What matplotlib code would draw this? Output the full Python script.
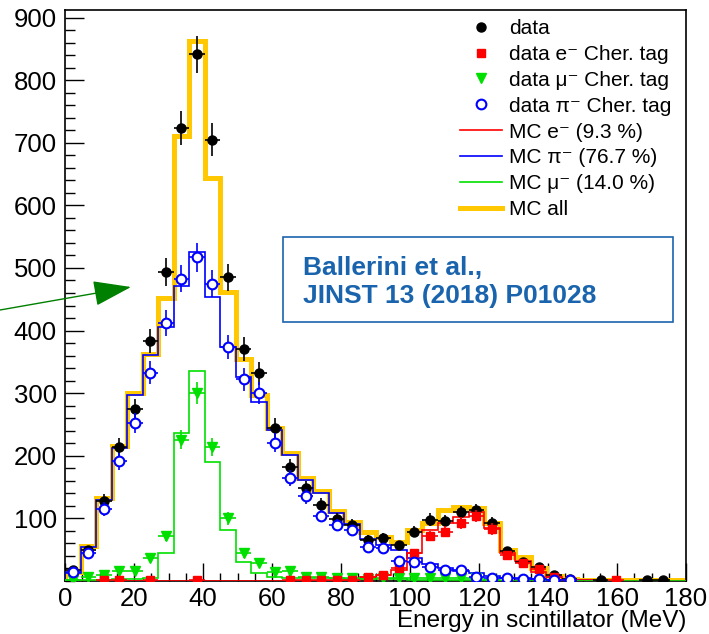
import numpy as np
import matplotlib
matplotlib.use("Agg")
import matplotlib.pyplot as plt
from matplotlib.lines import Line2D
from matplotlib.patches import Rectangle, FancyArrowPatch
from matplotlib.ticker import MultipleLocator

plt.rcParams['font.family'] = ['Liberation Sans', 'DejaVu Sans']

# 40 bins of 4.5 MeV between 0 and 180 MeV
bin_width = 4.5
edges = np.arange(0, 180 + bin_width / 2, bin_width)
centers = edges[:-1] + bin_width / 2

# Monte Carlo templates (entries per bin)
mc_all = np.array([15, 56, 132, 215, 300, 363, 452, 710, 862, 644,
                   462, 355, 297, 244, 204, 164, 143, 112, 95, 78,
                   70, 63, 81, 92, 113, 118, 116, 92, 50, 39,
                   20, 8, 3, 2, 1, 1, 1, 1, 1, 1])
mc_pi = np.array([12, 55, 130, 213, 297, 361, 405, 471, 525, 454,
                  374, 326, 286, 241, 202, 162, 140, 108, 91, 67,
                  58, 49, 36, 27, 20, 16, 12, 8, 5, 4,
                  3, 2, 1, 1, 0, 0, 0, 0, 0, 0])
mc_e = np.array([0, 0, 0, 0, 0, 0, 0, 0, 0, 0,
                 0, 0, 0, 0, 0, 0, 0, 0, 2, 6,
                 10, 18, 45, 82, 92, 103, 110, 84, 44, 32,
                 15, 6, 2, 1, 0, 0, 0, 0, 0, 0])
mc_mu = np.array([2, 2, 2, 3, 3, 4, 45, 236, 336, 190,
                  82, 31, 12, 7, 5, 5, 4, 4, 3, 3,
                  3, 3, 2, 2, 2, 2, 2, 1, 0, 0,
                  0, 0, 0, 0, 0, 0, 0, 0, 0, 0])

# Measured spectra
data_all = np.array([17, 49, 128, 214, 274, 383, 493, 723, 841, 705,
                     485, 371, 332, 244, 182, 148, 121, 99, 89, 66,
                     68, 57, 79, 98, 96, 110, 113, 92, 48, 30,
                     23, 9, 3, 0, 1, 0, 0, 1, 1, 0])
data_e = np.array([0, 0, 1, 1, 0, 1, 0, 0, 1, 0,
                   0, 0, 0, 0, 1, 1, 1, 1, 1, 7,
                   10, 20, 45, 72, 79, 92, 104, 83, 41, 29,
                   19, 6, 2, 0, 0, 1, 0, 0, 0, 0])
data_mu = np.array([2, 7, 10, 16, 16, 37, 72, 226, 300, 214,
                    100, 44, 29, 15, 16, 7, 6, 5, 4, 3,
                    4, 5, 4, 4, 4, 5, 4, 2, 0, 0,
                    0, 0, 0, 0, 0, 0, 0, 0, 0, 0])
data_pi = np.array([15, 44, 115, 191, 253, 333, 412, 483, 517, 475,
                    374, 322, 300, 221, 164, 135, 104, 89, 81, 54,
                    53, 32, 30, 23, 17, 17, 6, 5, 5, 3,
                    3, 1, 1, 0, 0, 0, 0, 0, 0, 0])

W, H = 709, 634
fig = plt.figure(figsize=(W / 100, H / 100), dpi=100)
ax = fig.add_axes([65 / W, 1 - 581 / H, 621 / W, 571 / H])

col_all = '#ffc800'
col_pi = '#0000ff'
col_e = '#ff0000'
col_mu = '#00e000'

ax.stairs(mc_all, edges, baseline=0, color=col_all, lw=3.6, zorder=2)
ax.stairs(mc_pi, edges, baseline=0, color=col_pi, lw=1.2, zorder=3)
ax.stairs(mc_e, edges, baseline=0, color=col_e, lw=1.2, zorder=3)
ax.stairs(mc_mu, edges, baseline=0, color=col_mu, lw=1.2, zorder=3)


def draw_points(values, color, marker, ms, mfc=None, mew=1.0, z=5):
    m = values > 0
    ax.errorbar(centers[m], values[m], yerr=np.sqrt(values[m]),
                xerr=bin_width / 2, fmt=marker, ms=ms, color=color,
                mfc=mfc if mfc else color, mec=color, mew=mew,
                elinewidth=1.2, capsize=0, zorder=z)


draw_points(data_all, 'black', 'o', 6.5, z=5)
draw_points(data_mu, col_mu, 'v', 6.5, z=6)
draw_points(data_e, col_e, 's', 6.0, z=7)
draw_points(data_pi, col_pi, 'o', 7.0, mfc='white', mew=1.5, z=8)

ax.set_xlim(0, 180)
ax.set_ylim(0, 912)
ax.xaxis.set_minor_locator(MultipleLocator(5))
ax.yaxis.set_minor_locator(MultipleLocator(20))
ax.set_yticks([100 * i for i in range(1, 10)])
ax.set_xticks([20 * i for i in range(0, 10)])
ax.tick_params(which='both', direction='in', top=False, right=False,
               width=1.0, labelsize=18.5, colors='black')
ax.tick_params(axis='y', which='major', length=14, pad=6)
ax.tick_params(axis='y', which='minor', length=7)
ax.tick_params(axis='x', which='major', length=13, pad=4)
ax.tick_params(axis='x', which='minor', length=6)
for s in ax.spines.values():
    s.set_linewidth(1.2)

fig.text(686 / W, 1 - 627 / H, 'Energy in scintillator (MeV)', fontsize=17.5,
         ha='right', va='baseline')

handles = [
    Line2D([], [], ls='none', marker='o', color='black', ms=6.5),
    Line2D([], [], ls='none', marker='s', color=col_e, ms=6),
    Line2D([], [], ls='none', marker='v', color=col_mu, ms=6.5),
    Line2D([], [], ls='none', marker='o', color=col_pi, mfc='white',
           mew=1.5, ms=7),
    Line2D([], [], color=col_e, lw=1.2),
    Line2D([], [], color=col_pi, lw=1.2),
    Line2D([], [], color=col_mu, lw=1.2),
    Line2D([], [], color=col_all, lw=3.6),
]
labels = [
    'data',
    'data e\u207b Cher. tag',
    'data \u03bc\u207b Cher. tag',
    'data \u03c0\u207b Cher. tag',
    'MC e\u207b (9.3 %)',
    'MC \u03c0\u207b (76.7 %)',
    'MC \u03bc\u207b (14.0 %)',
    'MC all',
]
ax.legend(handles, labels, loc='upper left',
          bbox_to_anchor=(460 / W, 1 - 19 / H), bbox_transform=fig.transFigure,
          frameon=False, fontsize=15, handlelength=2.0, handletextpad=0.36,
          labelspacing=0.33, borderpad=0, borderaxespad=0)

# reference box
box_col = '#1a64ad'
fig.add_artist(Rectangle((283 / W, 1 - 322 / H), 390 / W, 85 / H,
                         transform=fig.transFigure, fill=False,
                         edgecolor=box_col, lw=1.2))
fig.text(303 / W, 1 - 268 / H, 'Ballerini et al.,', color=box_col,
         fontsize=19, fontweight='bold', va='center', ha='left')
fig.text(303 / W, 1 - 296 / H, 'JINST 13 (2018) P01028', color=box_col,
         fontsize=19, fontweight='bold', va='center', ha='left')

# pointer arrow
arr = FancyArrowPatch((0, 1 - 310 / H), (131 / W, 1 - 287 / H),
                      transform=fig.transFigure,
                      arrowstyle='-|>,head_length=24,head_width=8',
                      mutation_scale=1, color='#008000', lw=1.0,
                      shrinkA=0, shrinkB=0)
fig.add_artist(arr)

fig.savefig('out.png', dpi=100)
